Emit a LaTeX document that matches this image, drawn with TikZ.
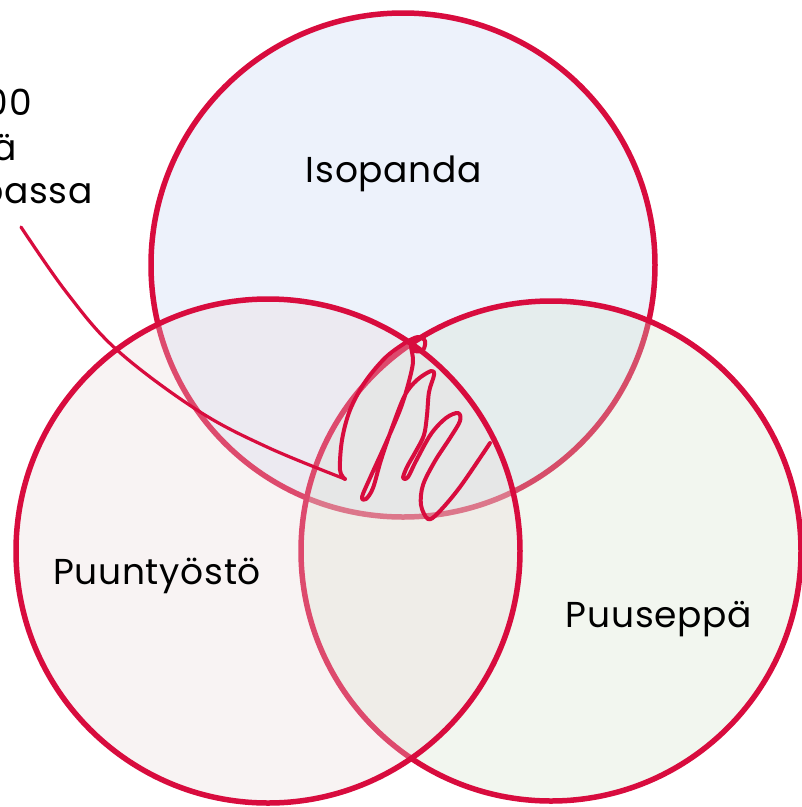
\documentclass[tikz,border=0pt]{standalone}
\usepackage{fontspec}
\setmainfont{Poppins}[LetterSpace=2]
\definecolor{vred}{RGB}{216,12,62}
\definecolor{ctop}{RGB}{198,212,242}
\definecolor{cleft}{RGB}{235,218,218}
\definecolor{cright}{RGB}{212,228,205}
\tikzset{
  venn/.style={draw=vred, line width=5.5pt, fill opacity=0.3},
  lbl/.style={font=\fontsize{36}{43}\selectfont, text=black, inner sep=0pt},
  ink/.style={draw=vred, line width=4pt, line cap=round, line join=round}
}
\begin{document}
\begin{tikzpicture}[x=1pt,y=-1pt]
\useasboundingbox (0,0) rectangle (802,807);
\fill[white] (0,0) rectangle (802,807);
% circles: top, right, left (order matters for the washed strokes)
\draw[venn, fill=ctop] (403,265) circle (252);
\draw[venn, fill=cright] (551,551) circle (250);
\draw[venn, fill=cleft] (268,551) circle (252);
% labels
\node[lbl, anchor=base] (iso) at (394,182) {Isopanda};
\node[lbl, anchor=base] (puun) at (157,584) {Puuntyöstö};
\node[lbl, anchor=base] (puus) at (659,627) {Puuseppä};
% cut-off annotation text
\node[lbl, anchor=base east] (t1) at (32,115) {00};
\node[lbl, anchor=base east] (t2) at (17,160) {ä};
\node[lbl, anchor=base east] (t3) at (93,203) {passa};
% leader
\coordinate (ls) at (21,227);
\coordinate (le) at (345,479);
\draw[ink, line width=3.2pt] plot[smooth, tension=0.6] coordinates {(ls) (67,293) (117,350) (197,410) (267,447) (le)};
% scribble
\draw[ink] plot[smooth, tension=0.55] coordinates {
 (le) (340,470) (342,440) (350,410) (365,382) (385,358) (405,343) (418,337)
 (425,341) (423,350) (415,351) (411,346)
 (413,362) (408,385) (400,410) (385,445) (370,478) (362,497) (366,499) (373,488)
 (381,460) (393,425) (405,395) (417,380) (431,371) (434,375)
 (429,392) (427,415) (424,435) (416,451) (407,467) (403,478) (408,477)
 (416,461) (431,434) (446,418) (458,413) (460,421) (450,438) (435,461) (423,485)
 (421,505) (428,519) (438,513) (460,487) (490,443)};
\end{tikzpicture}
\end{document}
